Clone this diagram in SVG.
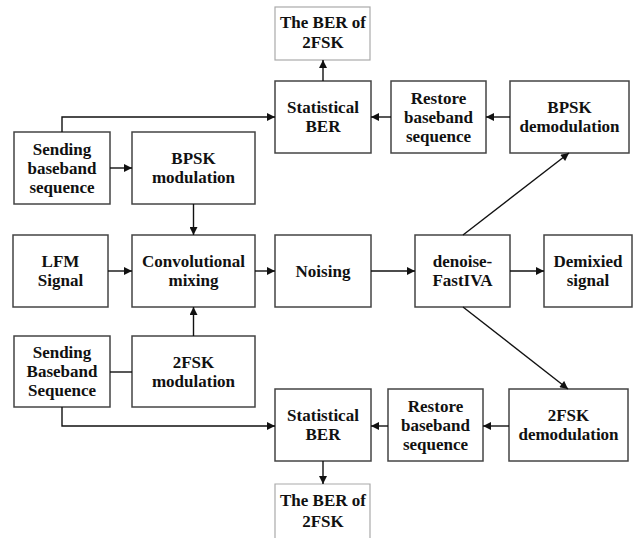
<svg xmlns="http://www.w3.org/2000/svg" width="637" height="538" viewBox="0 0 637 538">
<defs>
<style>
.b{fill:#fff;stroke:#444;stroke-width:1.5}
.g{fill:#fff;stroke:#aaa;stroke-width:1.2}
text{font-family:"Liberation Serif","Times New Roman",serif;font-weight:bold;font-size:17px;fill:#111;text-anchor:middle}
.c line,.c polyline{stroke:#111;stroke-width:1.4;fill:none}
.a{marker-end:url(#ah)}
</style>
<marker id="ah" viewBox="0 0 10 10" refX="10" refY="5" markerWidth="9" markerHeight="8" markerUnits="userSpaceOnUse" orient="auto">
<path d="M0,0 L10,5 L0,10 z" fill="#111"/>
</marker>
</defs>
<rect width="637" height="538" fill="#fff"/>
<g id="berTop"><rect class="g" x="275" y="7" width="95" height="53"/><text x="323" y="28">The BER of</text><text x="323" y="48">2FSK</text></g>
<g id="statTop"><rect class="b" x="275" y="81" width="96" height="72"/><text x="323" y="113">Statistical</text><text x="323" y="132">BER</text></g>
<g id="restoreTop"><rect class="b" x="391" y="81" width="95" height="72"/><text x="438.5" y="103.5">Restore</text><text x="438.5" y="122.5">baseband</text><text x="438.5" y="141.5">sequence</text></g>
<g id="bpskDemod"><rect class="b" x="510" y="81" width="119" height="72"/><text x="569.5" y="113">BPSK</text><text x="569.5" y="132">demodulation</text></g>
<g id="sendTop"><rect class="b" x="14" y="132" width="96" height="72"/><text x="62" y="154.5">Sending</text><text x="62" y="173.5">baseband</text><text x="62" y="192.5">sequence</text></g>
<g id="bpskMod"><rect class="b" x="132" y="132" width="123" height="72"/><text x="193.5" y="164">BPSK</text><text x="193.5" y="183">modulation</text></g>
<g id="lfm"><rect class="b" x="13" y="235" width="95" height="72"/><text x="60.5" y="267">LFM</text><text x="60.5" y="286">Signal</text></g>
<g id="conv"><rect class="b" x="132" y="235" width="123" height="72"/><text x="193.5" y="267">Convolutional</text><text x="193.5" y="286">mixing</text></g>
<g id="noising"><rect class="b" x="275" y="235" width="96" height="72"/><text x="323" y="276.5">Noising</text></g>
<g id="denoise"><rect class="b" x="415" y="235" width="95" height="72"/><text x="462.5" y="267">denoise-</text><text x="462.5" y="286">FastIVA</text></g>
<g id="demixed"><rect class="b" x="544" y="235" width="88" height="72"/><text x="588" y="267">Demixied</text><text x="588" y="286">signal</text></g>
<g id="sendBot"><rect class="b" x="14" y="336" width="96" height="71"/><text x="62" y="358">Sending</text><text x="62" y="377">Baseband</text><text x="62" y="396">Sequence</text></g>
<g id="fskMod"><rect class="b" x="132" y="336" width="123" height="71"/><text x="193.5" y="367.5">2FSK</text><text x="193.5" y="386.5">modulation</text></g>
<g id="statBot"><rect class="b" x="275" y="389" width="96" height="72"/><text x="323" y="421">Statistical</text><text x="323" y="440">BER</text></g>
<g id="restoreBot"><rect class="b" x="388" y="389" width="95" height="72"/><text x="435.5" y="411.5">Restore</text><text x="435.5" y="430.5">baseband</text><text x="435.5" y="449.5">sequence</text></g>
<g id="fskDemod"><rect class="b" x="509" y="389" width="119" height="72"/><text x="568.5" y="421">2FSK</text><text x="568.5" y="440">demodulation</text></g>
<g id="berBot"><path d="M275,540 V484 H370 V540" fill="#fff" stroke="#aaa" stroke-width="1.2"/><text x="323" y="506">The BER of</text><text x="323" y="527">2FSK</text></g>
<g id="connectors" class="c">
<line class="a" x1="323" y1="81" x2="323" y2="60"/>
<polyline class="a" points="62,132 62,117 275,117"/>
<line class="a" x1="110" y1="168" x2="132" y2="168"/>
<line class="a" x1="510" y1="117" x2="486" y2="117"/>
<line class="a" x1="391" y1="117" x2="371" y2="117"/>
<line class="a" x1="463" y1="235" x2="569" y2="153"/>
<line class="a" x1="193.5" y1="204" x2="193.5" y2="235"/>
<line class="a" x1="108" y1="271" x2="132" y2="271"/>
<line class="a" x1="255" y1="271" x2="275" y2="271"/>
<line class="a" x1="371" y1="271" x2="415" y2="271"/>
<line class="a" x1="510" y1="271" x2="544" y2="271"/>
<line class="a" x1="193.5" y1="336" x2="193.5" y2="307"/>
<line x1="110" y1="372" x2="132" y2="372"/>
<polyline class="a" points="62,407 62,426 275,426"/>
<line class="a" x1="463" y1="307" x2="568" y2="389"/>
<line class="a" x1="509" y1="426" x2="483" y2="426"/>
<line class="a" x1="388" y1="426" x2="371" y2="426"/>
<line class="a" x1="323" y1="461" x2="323" y2="484"/>
</g>
</svg>
